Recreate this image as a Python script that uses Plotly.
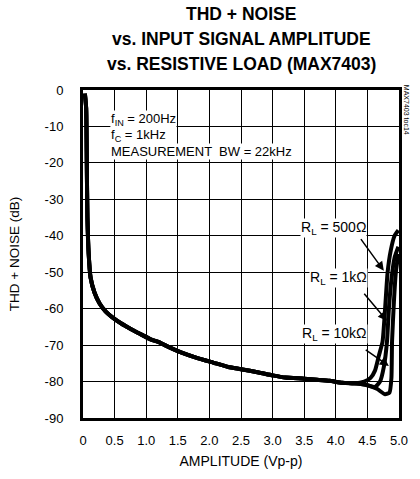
import plotly.graph_objects as go

# Shared part of the curve (all loads overlap)
amp_common = [0.03, 0.05, 0.06, 0.07, 0.09, 0.12, 0.18, 0.26, 0.36, 0.46, 0.6, 0.77, 0.9,
              1.08, 1.2, 1.35, 1.55, 1.8, 2.06, 2.3, 2.5, 2.78, 3.0, 3.2, 3.5, 3.7, 3.9, 4.1, 4.3]
thd_common = [-1, -5, -20, -35, -45, -51.5, -55.5, -58.5, -60.8, -62.3, -64, -65.7, -66.9,
              -68.5, -69.2, -70.5, -72, -73.5, -74.8, -76, -76.6, -77.5, -78.3, -78.9, -79.2,
              -79.5, -79.8, -80.3, -80.5]

amp_500 = [4.45, 4.55, 4.62, 4.68, 4.74, 4.78, 4.82, 4.87, 4.93, 4.99]
thd_500 = [-80, -79, -77, -73, -69, -60, -50, -44, -40, -38.5]
amp_1k = [4.5, 4.62, 4.7, 4.76, 4.81, 4.84, 4.88, 4.93, 4.99]
thd_1k = [-81, -81.5, -80, -76, -69, -60, -52, -46, -43]
amp_10k = [4.5, 4.65, 4.78, 4.85, 4.88, 4.89, 4.92, 4.95, 4.99]
thd_10k = [-81, -82, -83.5, -83, -79, -69, -58, -50, -45]

x_ticks = [0, 0.5, 1.0, 1.5, 2.0, 2.5, 3.0, 3.5, 4.0, 4.5, 5.0]
x_labels = ["0", "0.5", "1.0", "1.5", "2.0", "2.5", "3.0", "3.5", "4.0", "4.5", "5.0"]
y_ticks = [0, -10, -20, -30, -40, -50, -60, -70, -80, -90]
y_labels = ["0", "-10", "-20", "-30", "-40", "-50", "-60", "-70", "-80", "-90"]

title_lines = ["THD + NOISE", "vs. INPUT SIGNAL AMPLITUDE", "vs. RESISTIVE LOAD (MAX7403)"]

FONT = "Liberation Sans, Arial, sans-serif"

fig = go.Figure()
for ax_, ay_ in [(amp_500, thd_500), (amp_1k, thd_1k), (amp_10k, thd_10k)]:
    fig.add_trace(go.Scatter(x=amp_common + ax_, y=thd_common + ay_, mode="lines",
                             line=dict(color="black", width=4, shape="spline", smoothing=0.5),
                             showlegend=False, hoverinfo="skip"))

fig.update_layout(
    width=420, height=479,
    margin=dict(l=83, r=13, t=90, b=61),
    paper_bgcolor="white", plot_bgcolor="white",
    font=dict(family=FONT, color="black", size=13),
)
fig.update_xaxes(range=[0, 5], tickvals=x_ticks, ticktext=x_labels, showgrid=True,
                 gridcolor="black", gridwidth=1, showline=True, linecolor="black", linewidth=3,
                 mirror=True, ticks="", zeroline=False, ticklabelstandoff=8,
                 title=dict(text="AMPLITUDE (Vp-p)", font=dict(size=14), standoff=10))
fig.update_yaxes(range=[-90, 0], tickvals=y_ticks, ticktext=y_labels, showgrid=True,
                 gridcolor="black", gridwidth=1, showline=True, linecolor="black", linewidth=3,
                 mirror=True, ticks="", zeroline=False, ticklabelstandoff=14,
                 title=dict(text="THD + NOISE (dB)", font=dict(size=13.5), standoff=22))

# title lines
for i, line in enumerate(title_lines):
    py = 14 + 25 * i
    fig.add_annotation(x=0.5, y=1 - (py - 90) / 328, xref="paper", yref="paper",
                       text="<b>" + line + "</b>", showarrow=False, xanchor="center",
                       yanchor="middle", font=dict(size=17.5, family=FONT))

# condition text
for txt, yv in [("f<sub>IN</sub> = 200Hz", -8), ("f<sub>C</sub> = 1kHz", -12.6),
                ("MEASUREMENT  BW = 22kHz", -16.9)]:
    fig.add_annotation(x=0.43, y=yv, text=txt, showarrow=False, xanchor="left",
                       yanchor="middle", bgcolor="white", borderpad=0,
                       font=dict(size=13, family=FONT))

# load labels
for txt, tx, ty in [("R<sub>L</sub> = 500Ω", 3.96, -38), ("R<sub>L</sub> = 1kΩ", 4.05, -51.5),
                    ("R<sub>L</sub> = 10kΩ", 3.98, -66.9)]:
    fig.add_annotation(x=tx, y=ty, text=txt, showarrow=False, bgcolor="white",
                       borderpad=0, font=dict(size=14, family=FONT))

for (tx, ty, hx, hy) in [(4.38, -40.5, 4.76, -49.6), (4.43, -55.5, 4.81, -63.3),
                         (4.45, -71, 4.84, -75.7)]:
    fig.add_annotation(x=hx, y=hy, ax=tx, ay=ty, axref="x", ayref="y", text="",
                       showarrow=True, arrowhead=2, arrowsize=1.2, arrowwidth=1.5,
                       arrowcolor="black")

fig.add_annotation(x=1.0247, y=0.94, xref="paper", yref="paper", text="MAX7403 toc14",
                   textangle=90, showarrow=False, xanchor="center", yanchor="middle",
                   font=dict(size=7, family=FONT))

fig.write_html("out.html", config={"displayModeBar": False},
               post_script="document.body.style.margin='0';")
